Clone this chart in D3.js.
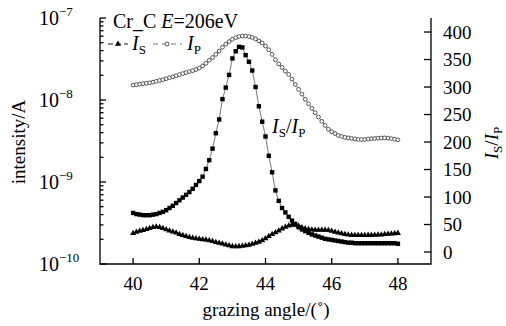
<!DOCTYPE html>
<html><head><meta charset="utf-8">
<script src="https://cdn.jsdelivr.net/npm/d3@7/dist/d3.min.js"></script>
<style>
body{margin:0;background:#fff;}
svg text{font-family:"Liberation Serif","Times New Roman",serif;fill:#000;}
</style></head><body>
<svg id="c" width="506" height="326"></svg>
<script>
const angles = [40.0,40.1,40.2,40.3,40.4,40.5,40.6,40.7,40.8,40.9,
41.0,41.1,41.2,41.3,41.4,41.5,41.6,41.7,41.8,41.9,
42.0,42.1,42.2,42.3,42.4,42.5,42.6,42.7,42.8,42.9,
43.0,43.1,43.2,43.3,43.4,43.5,43.6,43.7,43.8,43.9,
44.0,44.1,44.2,44.3,44.4,44.5,44.6,44.7,44.8,44.9,
45.0,45.1,45.2,45.3,45.4,45.5,45.6,45.7,45.8,45.9,
46.0,46.1,46.2,46.3,46.4,46.5,46.6,46.7,46.8,46.9,
47.0,47.1,47.2,47.3,47.4,47.5,47.6,47.7,47.8,47.9,48.0];
// I_S in units of 1e-10 A
const IS = [2.37,2.45,2.52,2.58,2.65,2.72,2.80,2.85,2.80,2.72,
2.63,2.55,2.47,2.40,2.30,2.24,2.18,2.12,2.08,2.05,
2.02,1.99,1.97,1.94,1.89,1.84,1.80,1.76,1.72,1.68,
1.64,1.63,1.64,1.66,1.68,1.71,1.75,1.80,1.86,1.94,
2.05,2.18,2.30,2.42,2.55,2.70,2.83,2.93,2.98,3.00,
2.90,2.78,2.70,2.65,2.62,2.60,2.60,2.60,2.60,2.58,
2.52,2.46,2.40,2.35,2.30,2.27,2.25,2.24,2.24,2.24,
2.24,2.25,2.25,2.26,2.27,2.28,2.30,2.32,2.34,2.36,2.38];
// I_P in units of 1e-8 A
const IP = [1.52,1.54,1.56,1.58,1.60,1.62,1.65,1.69,1.73,1.77,
1.82,1.87,1.92,1.98,2.04,2.10,2.16,2.22,2.28,2.35,
2.45,2.60,2.80,3.05,3.30,3.60,3.95,4.40,4.80,5.15,
5.50,5.75,5.95,6.03,6.03,5.95,5.80,5.55,5.25,4.95,
4.55,4.10,3.60,3.10,2.75,2.50,2.25,2.05,1.80,1.55,
1.35,1.18,1.02,0.90,0.79,0.70,0.62,0.55,0.49,0.44,
0.41,0.39,0.37,0.36,0.35,0.345,0.34,0.335,0.33,0.33,
0.33,0.335,0.337,0.34,0.342,0.344,0.345,0.343,0.338,0.332,0.327];
// I_S/I_P ratio (right axis)
const ratio = [71,69,68,67,67,67,68,69,71,73,
76,80,84,89,94,99,104,109,115,122,
129,137,151,167,188,216,241,278,299,322,
352,365,373,372,358,346,330,300,265,237,
210,175,145,112,93,80,72,64,57,51,
45,41,38,35,32,30,28,26,24,23,
22,21,20,19,18,17,17,16,16,16,
16,16,16,16,16,16,16,16,16,16,15];
const xTicks = [40,42,44,46,48];
const rightTicks = [0,50,100,150,200,250,300,350,400];
const leftExps = [-10,-9,-8,-7];

const svg = d3.select("#c");
const L = 100, R = 431, T = 18, B = 264;
const x = d3.scaleLinear().domain([39,49]).range([L,R]);
const yL = d3.scaleLog().domain([1e-10,1e-7]).range([B,T]);
const yR = d3.scaleLinear().domain([-21.8,425.5]).range([B,T]);

const FS = 19;
const ax = svg.append("g").attr("stroke","#000").attr("stroke-width",1.3).attr("fill","none");
ax.append("path").attr("d",`M${L},${T}V${B}H${R}V${T}`);

xTicks.forEach(t=>{
  ax.append("line").attr("x1",x(t)).attr("x2",x(t)).attr("y1",B).attr("y2",B-6);
  svg.append("text").attr("x",x(t)).attr("y",290).attr("text-anchor","middle").attr("font-size",FS).text(t);
});
for(let e=-10;e<-7;e++){
  for(let m=1;m<10;m++){
    const v = m*Math.pow(10,e);
    ax.append("line").attr("x1",L).attr("x2",L+(m===1?6:3.5)).attr("y1",yL(v)).attr("y2",yL(v));
  }
}
ax.append("line").attr("x1",L).attr("x2",L+6).attr("y1",yL(1e-7)).attr("y2",yL(1e-7));
leftExps.forEach(e=>{
  const t = svg.append("text").attr("x",39).attr("y",yL(Math.pow(10,e))+7).attr("font-size",20);
  t.append("tspan").text("10");
  t.append("tspan").attr("dy",-9).attr("font-size",13).text("\u2212"+Math.abs(e));
});
rightTicks.forEach(t=>{
  ax.append("line").attr("x1",R).attr("x2",R-7).attr("y1",yR(t)).attr("y2",yR(t));
  svg.append("text").attr("x",443).attr("y",yR(t)+6.5).attr("font-size",FS).text(t);
});

svg.append("text").attr("x",266).attr("y",316).attr("text-anchor","middle").attr("font-size",FS)
  .text("grazing angle/(\u02da)");
svg.append("text").attr("transform","translate(25,142) rotate(-90)").attr("text-anchor","middle").attr("font-size",FS)
  .text("intensity/A");
function ratioLabel(g){
  g.append("tspan").attr("font-style","italic").text("I");
  g.append("tspan").attr("font-size",13).attr("dy",4).text("S");
  g.append("tspan").attr("dy",-4).text("/");
  g.append("tspan").attr("font-style","italic").text("I");
  g.append("tspan").attr("font-size",13).attr("dy",4).text("P");
}
const rl = svg.append("text").attr("transform","translate(498,143) rotate(-90)").attr("text-anchor","middle").attr("font-size",FS);
ratioLabel(rl);

const dS = angles.map((a,i)=>({a, v:IS[i]*1e-10}));
const dP = angles.map((a,i)=>({a, v:IP[i]*1e-8}));
const dR = angles.map((a,i)=>({a, v:ratio[i]}));

const lineL = d3.line().x(d=>x(d.a)).y(d=>yL(d.v));
const lineR = d3.line().x(d=>x(d.a)).y(d=>yR(d.v));

svg.append("path").attr("d",lineL(dP)).attr("fill","none").attr("stroke","#666").attr("stroke-width",0.7);
svg.append("path").attr("d",lineR(dR)).attr("fill","none").attr("stroke","#555").attr("stroke-width",0.8);
svg.append("path").attr("d",lineL(dS)).attr("fill","none").attr("stroke","#000").attr("stroke-width",0.9);

svg.append("g").selectAll("circle").data(dP).join("circle")
  .attr("cx",d=>x(d.a)).attr("cy",d=>yL(d.v)).attr("r",1.9)
  .attr("fill","#fff").attr("stroke","#444").attr("stroke-width",0.9);
svg.append("g").selectAll("rect").data(dR).join("rect")
  .attr("x",d=>x(d.a)-2.2).attr("y",d=>yR(d.v)-2.2).attr("width",4.4).attr("height",4.4).attr("fill","#000");
const tri = d3.symbol().type(d3.symbolTriangle).size(16);
svg.append("g").selectAll("path").data(dS).join("path")
  .attr("transform",d=>`translate(${x(d.a)},${yL(d.v)})`).attr("d",tri).attr("fill","#000");

const t1 = svg.append("text").attr("x",113).attr("y",28).attr("font-size",20);
t1.append("tspan").text("Cr_C ");
t1.append("tspan").attr("font-style","italic").text("E");
t1.append("tspan").text("=206eV");

const lg = svg.append("g");
lg.append("line").attr("x1",108).attr("x2",128).attr("y1",44).attr("y2",44).attr("stroke","#000").attr("stroke-width",0.9).attr("stroke-dasharray","5,3");
lg.append("path").attr("transform","translate(118,44)").attr("d",tri).attr("fill","#000");
const l1 = lg.append("text").attr("x",132).attr("y",50).attr("font-size",20);
l1.append("tspan").attr("font-style","italic").text("I");
l1.append("tspan").attr("font-size",13).attr("dy",4).text("S");
lg.append("line").attr("x1",153).attr("x2",182).attr("y1",44).attr("y2",44).attr("stroke","#555").attr("stroke-width",0.8).attr("stroke-dasharray","5,4");
lg.append("circle").attr("cx",167).attr("cy",44).attr("r",2).attr("fill","#fff").attr("stroke","#444").attr("stroke-width",0.9);
const l2 = lg.append("text").attr("x",187).attr("y",50).attr("font-size",20);
l2.append("tspan").attr("font-style","italic").text("I");
l2.append("tspan").attr("font-size",13).attr("dy",4).text("P");

const il = svg.append("text").attr("x",272).attr("y",133).attr("font-size",20);
ratioLabel(il);
</script>
</body></html>
